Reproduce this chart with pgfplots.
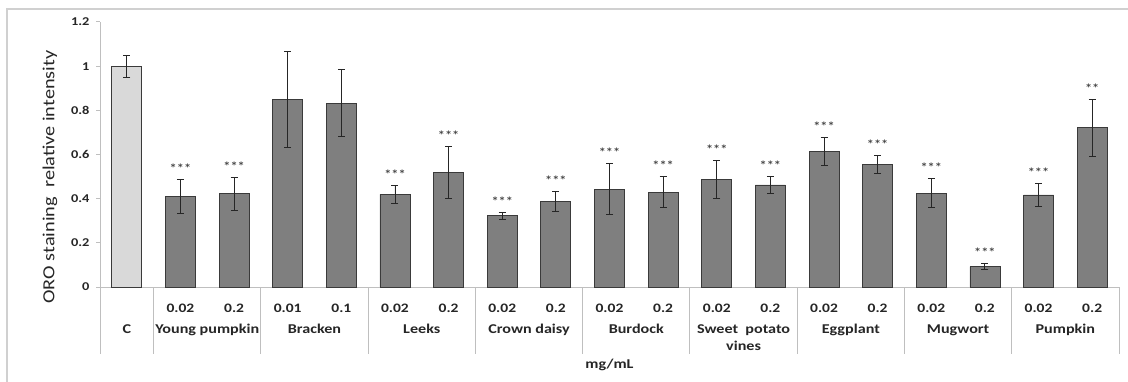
\documentclass[border=0pt]{standalone}
\usepackage{pgfplots}
\usepackage{pgfplotstable}
\pgfplotsset{compat=1.18}
\usepackage{fontspec}
\setmainfont{Carlito}[FakeStretch=1.2]
\definecolor{framec}{HTML}{D0D0D0}
\definecolor{axisc}{HTML}{BFBFBF}
\definecolor{barc}{HTML}{7F7F7F}
\definecolor{barline}{HTML}{3A3A3A}
\definecolor{ctrl}{HTML}{D9D9D9}
\definecolor{errc}{HTML}{262626}
\definecolor{txt}{HTML}{262626}

\pgfplotstableread{
x y err star
1 0.412 0.077 ***
2 0.423 0.075 ***
3 0.850 0.217 {}
4 0.833 0.153 {}
5 0.420 0.041 ***
6 0.518 0.117 ***
7 0.322 0.017 ***
8 0.386 0.045 ***
9 0.443 0.116 ***
10 0.429 0.071 ***
11 0.489 0.086 ***
12 0.462 0.037 ***
13 0.613 0.062 ***
14 0.554 0.041 ***
15 0.424 0.066 ***
16 0.092 0.013 ***
17 0.417 0.053 ***
18 0.721 0.128 **
}\datatable

\begin{document}
\begin{tikzpicture}[x=1bp,y=1bp]
\useasboundingbox (0,0) rectangle (1128,381);
\draw[framec, line width=1.3bp] (7,-5) -- (7,372) -- (1135,372);
\begin{axis}[
  at={(100bp,94bp)}, anchor=south west,
  scale only axis, width=1019bp, height=265bp,
  xmin=-0.5, xmax=18.5, ymin=0, ymax=1.2,
  clip=false,
  axis x line*=bottom, axis y line*=left,
  axis line style={draw=axisc, line width=1bp, -},
  ytick={0,0.2,0.4,0.6,0.8,1,1.2},
  yticklabels={0,0.2,0.4,0.6,0.8,1,1.2},
  yticklabel style={font=\bfseries\fontsize{12}{12}\selectfont, text=txt, xshift=-3bp},
  y tick style={draw=axisc, line width=1bp},
  tick align=outside, major tick length=4bp,
  xtick={1,...,18},
  xticklabels={0.02,0.2,0.01,0.1,0.02,0.2,0.02,0.2,0.02,0.2,0.02,0.2,0.02,0.2,0.02,0.2,0.02,0.2},
  xticklabel style={font=\bfseries\fontsize{13}{13}\selectfont, text=txt, anchor=base, yshift=-21.5bp},
  x tick style={draw=none},
  ylabel={ORO staining\ \ relative intensity},
  ylabel style={at={(axis description cs:-0.049,0.415)}, anchor=center, font=\fontsize{17}{17}\selectfont, text=txt},
]
\addplot[ybar, bar shift=0pt, bar width=30bp, fill=ctrl, draw=barline, line width=0.8bp,
  error bars/.cd, y dir=both, y explicit,
  error bar style={line width=0.9bp, draw=errc},
  error mark options={rotate=90, mark size=3.5bp, line width=0.9bp, draw=errc}]
  coordinates {(0,1.0) +- (0,0.05)};
\addplot[ybar, bar shift=0pt, bar width=30bp, fill=barc, draw=barline, line width=0.8bp,
  error bars/.cd, y dir=both, y explicit,
  error bar style={line width=0.9bp, draw=errc},
  error mark options={rotate=90, mark size=3.5bp, line width=0.9bp, draw=errc}]
  table[x=x, y=y, y error=err] {\datatable};
\addplot[draw=none, mark=none, nodes near coords, point meta=explicit symbolic,
  every node near coord/.style={anchor=base, yshift=7bp, inner sep=0pt, font=\bfseries\fontsize{12}{12}\selectfont, text=txt!85!white}]
  table[x=x, y expr=\thisrow{y}+\thisrow{err}, meta=star] {\datatable};
\pgfplotsinvokeforeach{-0.5,0.5,2.5,4.5,6.5,8.5,10.5,12.5,14.5,16.5,18.5}{
  \draw[axisc, line width=1bp] (axis cs:#1,0) -- ([yshift=-67bp]axis cs:#1,0);
}
\begin{scope}[every node/.style={font=\bfseries\fontsize{13.5}{13.5}\selectfont, text=txt, anchor=base, inner sep=0pt}]
\node[yshift=-46.5bp] at (axis cs:0,0) {C};
\node[yshift=-46.5bp] at (axis cs:1.5,0) {Young pumpkin};
\node[yshift=-46.5bp] at (axis cs:3.5,0) {Bracken};
\node[yshift=-46.5bp] at (axis cs:5.5,0) {Leeks};
\node[yshift=-46.5bp] at (axis cs:7.5,0) {Crown daisy};
\node[yshift=-46.5bp] at (axis cs:9.5,0) {Burdock};
\node[yshift=-46.5bp] at (axis cs:11.5,0) {Sweet\ \ potato};
\node[yshift=-63.5bp] at (axis cs:11.5,0) {vines};
\node[yshift=-46.5bp] at (axis cs:13.5,0) {Eggplant};
\node[yshift=-46.5bp] at (axis cs:15.5,0) {Mugwort};
\node[yshift=-46.5bp] at (axis cs:17.5,0) {Pumpkin};
\node[yshift=-81bp] at (axis cs:9,0) {mg/mL};
\end{scope}
\end{axis}
\end{tikzpicture}
\end{document}
